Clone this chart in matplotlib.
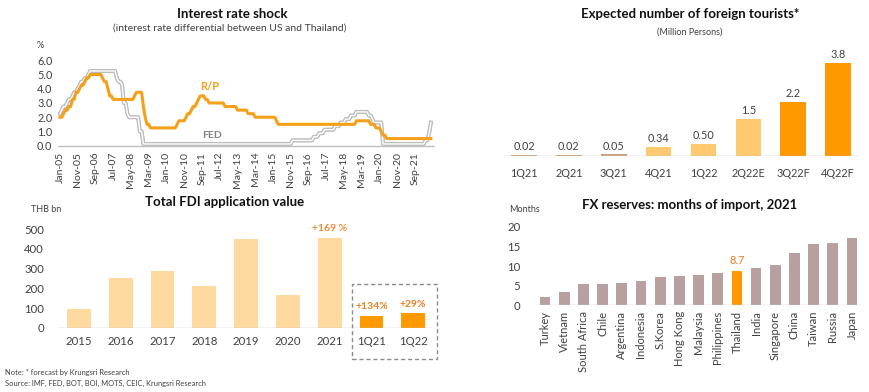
import matplotlib
matplotlib.use("Agg")
import matplotlib.pyplot as plt
import matplotlib.patheffects as pe
from matplotlib.patches import Rectangle
import numpy as np

plt.rcParams['font.family'] = ['Lato', 'DejaVu Sans']

# ---------------- Data ----------------
# Interest rates, monthly Jan-2005 .. Jun-2022
fed_rate = [
    2.25, 2.5, 2.75, 2.75, 3.0, 3.25, 3.25, 3.5, 3.75, 3.75, 4.0, 4.25,          # 2005
    4.5, 4.5, 4.75, 4.75, 5.0, 5.25, 5.25, 5.25, 5.25, 5.25, 5.25, 5.25,         # 2006
    5.25, 5.25, 5.25, 5.25, 5.25, 5.25, 5.25, 5.25, 4.75, 4.5, 4.5, 4.25,        # 2007
    3.0, 3.0, 2.25, 2.0, 2.0, 2.0, 2.0, 2.0, 2.0, 1.0, 1.0, 0.125,               # 2008
    0.125, 0.125, 0.125, 0.125, 0.125, 0.125, 0.125, 0.125, 0.125, 0.125, 0.125, 0.125,  # 2009
    0.125, 0.125, 0.125, 0.125, 0.125, 0.125, 0.125, 0.125, 0.125, 0.125, 0.125, 0.125,  # 2010
    0.125, 0.125, 0.125, 0.125, 0.125, 0.125, 0.125, 0.125, 0.125, 0.125, 0.125, 0.125,  # 2011
    0.125, 0.125, 0.125, 0.125, 0.125, 0.125, 0.125, 0.125, 0.125, 0.125, 0.125, 0.125,  # 2012
    0.125, 0.125, 0.125, 0.125, 0.125, 0.125, 0.125, 0.125, 0.125, 0.125, 0.125, 0.125,  # 2013
    0.125, 0.125, 0.125, 0.125, 0.125, 0.125, 0.125, 0.125, 0.125, 0.125, 0.125, 0.125,  # 2014
    0.125, 0.125, 0.125, 0.125, 0.125, 0.125, 0.125, 0.125, 0.125, 0.125, 0.125, 0.375,  # 2015
    0.375, 0.375, 0.375, 0.375, 0.375, 0.375, 0.375, 0.375, 0.375, 0.375, 0.375, 0.625,  # 2016
    0.625, 0.625, 0.875, 0.875, 0.875, 1.125, 1.125, 1.125, 1.125, 1.125, 1.125, 1.375,  # 2017
    1.375, 1.375, 1.625, 1.625, 1.625, 1.875, 1.875, 1.875, 2.125, 2.125, 2.125, 2.375,  # 2018
    2.375, 2.375, 2.375, 2.375, 2.375, 2.375, 2.125, 2.125, 1.875, 1.625, 1.625, 1.625,  # 2019
    1.625, 1.625, 0.125, 0.125, 0.125, 0.125, 0.125, 0.125, 0.125, 0.125, 0.125, 0.125,  # 2020
    0.125, 0.125, 0.125, 0.125, 0.125, 0.125, 0.125, 0.125, 0.125, 0.125, 0.125, 0.125,  # 2021
    0.125, 0.125, 0.375, 0.375, 0.875, 1.625,                                     # 2022
]
rp_rate = [
    2.0, 2.0, 2.25, 2.5, 2.5, 2.75, 2.75, 3.25, 3.25, 3.75, 3.75, 4.0,           # 2005
    4.25, 4.25, 4.5, 4.75, 4.75, 5.0, 5.0, 5.0, 5.0, 5.0, 5.0, 5.0,              # 2006
    4.75, 4.5, 4.5, 4.0, 3.5, 3.5, 3.25, 3.25, 3.25, 3.25, 3.25, 3.25,           # 2007
    3.25, 3.25, 3.25, 3.25, 3.25, 3.25, 3.5, 3.75, 3.75, 3.75, 3.75, 2.75,       # 2008
    2.0, 1.5, 1.5, 1.25, 1.25, 1.25, 1.25, 1.25, 1.25, 1.25, 1.25, 1.25,         # 2009
    1.25, 1.25, 1.25, 1.25, 1.25, 1.25, 1.5, 1.75, 1.75, 1.75, 1.75, 2.0,        # 2010
    2.25, 2.25, 2.5, 2.75, 2.75, 3.0, 3.25, 3.5, 3.5, 3.5, 3.25, 3.25,           # 2011
    3.0, 3.0, 3.0, 3.0, 3.0, 3.0, 3.0, 3.0, 3.0, 2.75, 2.75, 2.75,               # 2012
    2.75, 2.75, 2.75, 2.75, 2.5, 2.5, 2.5, 2.5, 2.5, 2.5, 2.25, 2.25,            # 2013
    2.25, 2.25, 2.0, 2.0, 2.0, 2.0, 2.0, 2.0, 2.0, 2.0, 2.0, 2.0,                # 2014
    2.0, 2.0, 1.75, 1.5, 1.5, 1.5, 1.5, 1.5, 1.5, 1.5, 1.5, 1.5,                 # 2015
    1.5, 1.5, 1.5, 1.5, 1.5, 1.5, 1.5, 1.5, 1.5, 1.5, 1.5, 1.5,                  # 2016
    1.5, 1.5, 1.5, 1.5, 1.5, 1.5, 1.5, 1.5, 1.5, 1.5, 1.5, 1.5,                  # 2017
    1.5, 1.5, 1.5, 1.5, 1.5, 1.5, 1.5, 1.5, 1.5, 1.5, 1.5, 1.75,                 # 2018
    1.75, 1.75, 1.75, 1.75, 1.75, 1.75, 1.75, 1.5, 1.5, 1.5, 1.25, 1.25,         # 2019
    1.25, 1.0, 0.75, 0.75, 0.5, 0.5, 0.5, 0.5, 0.5, 0.5, 0.5, 0.5,               # 2020
    0.5, 0.5, 0.5, 0.5, 0.5, 0.5, 0.5, 0.5, 0.5, 0.5, 0.5, 0.5,                  # 2021
    0.5, 0.5, 0.5, 0.5, 0.5, 0.5,                                                # 2022
]
rate_ticklabels = ["Jan-05", "Nov-05", "Sep-06", "Jul-07", "May-08", "Mar-09", "Jan-10",
                   "Nov-10", "Sep-11", "Jul-12", "May-13", "Mar-14", "Jan-15", "Nov-15",
                   "Sep-16", "Jul-17", "May-18", "Mar-19", "Jan-20", "Nov-20", "Sep-21"]

tour_quarters = ["1Q21", "2Q21", "3Q21", "4Q21", "1Q22", "2Q22E", "3Q22F", "4Q22F"]
tour_values = [0.02, 0.02, 0.05, 0.34, 0.50, 1.5, 2.2, 3.8]
tour_labels = ["0.02", "0.02", "0.05", "0.34", "0.50", "1.5", "2.2", "3.8"]

fdi_periods = ["2015", "2016", "2017", "2018", "2019", "2020", "2021", "1Q21", "1Q22"]
fdi_values = [96, 253, 289, 213, 450, 168, 455, 60, 77]

fx_countries = ["Turkey", "Vietnam", "South Africa", "Chile", "Argentina", "Indonesia",
                "S.Korea", "Hong Kong", "Malaysia", "Philippines", "Thailand", "India",
                "Singapore", "China", "Taiwan", "Russia", "Japan"]
fx_months = [2.2, 3.3, 5.4, 5.4, 5.7, 6.2, 7.2, 7.4, 7.7, 8.2, 8.7, 9.5, 10.2,
             13.2, 15.7, 15.9, 17.1]

# ---------------- Style ----------------
ORANGE = "#FF9900"
LIGHT_TOUR = "#FFC96F"
LIGHT_FDI = "#FFDAA0"
MAUVE = "#B9A0A0"
RP_COLOR = "#F5A01A"
LABEL_ORANGE = "#EE7F22"
TXT = "#404040"
AXIS = "#BFBFBF"

W, H = 870, 392
fig = plt.figure(figsize=(W / 100, H / 100), dpi=100)


def ax_px(x0, y0, x1, y1):
    """axes from pixel box (left, top, right, bottom)"""
    return fig.add_axes([x0 / W, 1 - y1 / H, (x1 - x0) / W, (y1 - y0) / H])


def clean(ax):
    for s in ax.spines.values():
        s.set_visible(False)
    ax.tick_params(length=0, colors=TXT)


# ---------- Top-left: Interest rate shock ----------
ax1 = ax_px(58, 55.3, 435, 147.7)
clean(ax1)
months = np.arange(len(fed_rate))
ax1.axhline(0, color=AXIS, lw=1.0, zorder=1)
ax1.plot(months, fed_rate, color="#BDBDBD", lw=2.6, zorder=2,
         path_effects=[pe.Stroke(linewidth=2.8, foreground="#B5B5B5"), pe.Normal()])
ax1.plot(months, fed_rate, color="white", lw=1.0, zorder=3)
ax1.plot(months, rp_rate, color=RP_COLOR, lw=2.2, zorder=4)
ax1.set_xlim(-1.13, 211.3)
ax1.set_ylim(-0.14, 6.35)
ax1.set_yticks(np.arange(0, 6.01, 1.0))
ax1.set_yticklabels([f"{v:.1f}" for v in np.arange(0, 6.01, 1.0)], fontsize=7.8)
ax1.set_xticks(np.arange(0, 201, 10))
ax1.set_xticklabels(rate_ticklabels, rotation=90, fontsize=7.5)
ax1.tick_params(axis='x', pad=3)
ax1.tick_params(axis='y', pad=4)
ax1.text(79, 4.15, "R/P", color=RP_COLOR, fontsize=8, fontweight="bold", ha="left", va="center")
ax1.text(80, 0.75, "FED", color="#7F7F7F", fontsize=7.5, fontweight="bold", ha="left", va="center")
fig.text(40 / W, 1 - 45 / H, "%", fontsize=6.5, color=TXT, ha="center", va="center")
fig.text(232 / W, 1 - 14 / H, "Interest rate shock", fontsize=9.5, fontweight="bold",
         color="#111111", ha="center", va="center")
fig.text(230 / W, 1 - 28.5 / H, "(interest rate differential between US and Thailand)",
         fontsize=7.5, color=TXT, ha="center", va="center")

# ---------- Top-right: foreign tourists ----------
ax2 = ax_px(503, 45, 860, 155.7)
clean(ax2)
tour_colors = ["#C8A27A", "#C8A27A", "#C8A27A", LIGHT_TOUR, LIGHT_TOUR, LIGHT_TOUR, ORANGE, ORANGE]
xt = np.arange(len(tour_values))
ax2.bar(xt, tour_values, width=0.57, color=tour_colors, zorder=2)
ax2.axhline(0, color=AXIS, lw=1.0, zorder=3)
for xi, v, lab in zip(xt, tour_values, tour_labels):
    ax2.text(xi, v + 0.12, lab, ha="center", va="bottom", fontsize=7.8, color=TXT)
ax2.set_xlim(-0.47, 7.49)
ax2.set_ylim(0, 4.54)
ax2.set_yticks([])
ax2.set_xticks(xt)
ax2.set_xticklabels(tour_quarters, fontsize=7.8)
ax2.tick_params(axis='x', pad=9)
fig.text(690 / W, 1 - 14 / H, "Expected number of foreign tourists*", fontsize=9.5,
         fontweight="bold", color="#111111", ha="center", va="center")
fig.text(690 / W, 1 - 32 / H, "(Million Persons)", fontsize=6.5, color=TXT,
         ha="center", va="center")

# ---------- Bottom-left: FDI ----------
ax3 = ax_px(58, 224.3, 432, 328)
clean(ax3)
xf = np.arange(len(fdi_values))
fdi_colors = [LIGHT_FDI] * 7 + [ORANGE] * 2
ax3.bar(xf, fdi_values, width=0.57, color=fdi_colors, zorder=2)
ax3.axhline(0, color=AXIS, lw=1.0, zorder=3)
ax3.set_xlim(-0.503, 8.45)
ax3.set_ylim(0, 525)
ax3.set_yticks(np.arange(0, 501, 100))
ax3.set_yticklabels([str(v) for v in range(0, 501, 100)], fontsize=8.2)
ax3.tick_params(axis='y', pad=10)
ax3.set_xticks(xf)
ax3.set_xticklabels(fdi_periods, fontsize=8.2)
ax3.tick_params(axis='x', pad=6)
ax3.text(xf[6], fdi_values[6] + 25, "+169 %", color=LABEL_ORANGE, fontsize=7.5,
         fontweight="semibold", ha="center", va="bottom")
ax3.text(xf[7], fdi_values[7] + 25, "+134%", color=LABEL_ORANGE, fontsize=7.5,
         fontweight="bold", ha="center", va="bottom")
ax3.text(xf[8], fdi_values[8] + 20, "+29%", color=LABEL_ORANGE, fontsize=7.5,
         fontweight="bold", ha="center", va="bottom")
fig.patches.append(Rectangle((352 / W, 1 - 359 / H), (437 - 352) / W, (359 - 284) / H,
                             transform=fig.transFigure, fill=False, ec="#8C8C8C",
                             ls=(0, (3, 2)), lw=1.0))
fig.text(46 / W, 1 - 210 / H, "THB bn", fontsize=6.5, color=TXT, ha="center", va="center")
fig.text(225 / W, 1 - 202 / H, "Total FDI application value", fontsize=9.5,
         fontweight="bold", color="#111111", ha="center", va="center")

# ---------- Bottom-right: FX reserves ----------
ax4 = ax_px(537, 222, 862, 305.3)
clean(ax4)
xc = np.arange(len(fx_months))
fx_colors = [ORANGE if c == "Thailand" else MAUVE for c in fx_countries]
ax4.bar(xc, fx_months, width=0.56, color=fx_colors, zorder=2)
ax4.axhline(0, color=AXIS, lw=1.0, zorder=3)
ti = fx_countries.index("Thailand")
ax4.text(xc[ti], fx_months[ti] + 1.2, "8.7", color=LABEL_ORANGE, fontsize=8,
         ha="center", va="bottom")
ax4.set_xlim(-0.42, 16.52)
ax4.set_ylim(0, 21.2)
ax4.set_yticks(np.arange(0, 21, 5))
ax4.set_yticklabels([str(v) for v in range(0, 21, 5)], fontsize=8.2)
ax4.tick_params(axis='y', pad=12)
ax4.set_xticks(xc)
ax4.set_xticklabels(fx_countries, rotation=90, fontsize=8)
ax4.tick_params(axis='x', pad=4)
fig.text(525 / W, 1 - 209 / H, "Months", fontsize=6.5, color=TXT, ha="center", va="center")
fig.text(690 / W, 1 - 205 / H, "FX reserves: months of import, 2021", fontsize=9.5,
         fontweight="bold", color="#111111", ha="center", va="center")

# ---------- Footnotes ----------
fig.text(5 / W, 1 - 372 / H, "Note: * forecast by Krungsri Research", fontsize=5.4,
         color=TXT, ha="left", va="center")
fig.text(5 / W, 1 - 383 / H, "Source: IMF, FED, BOT, BOI, MOTS, CEIC, Krungsri Research",
         fontsize=5.4, color=TXT, ha="left", va="center")

fig.savefig("out.png", dpi=100, facecolor="white")
